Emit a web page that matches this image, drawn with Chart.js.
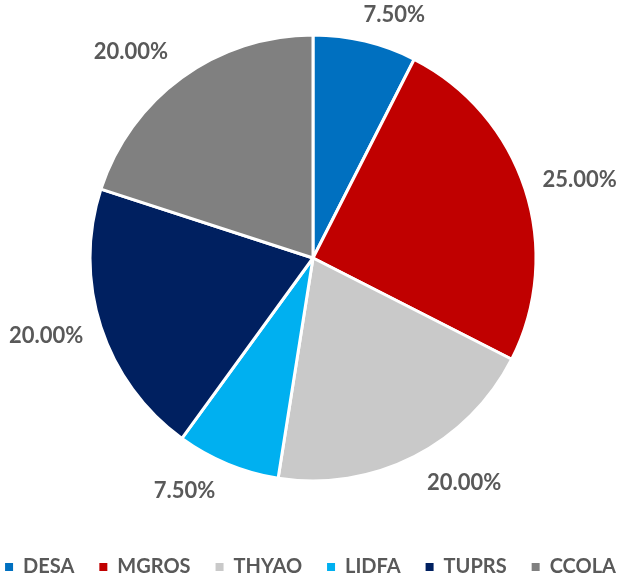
<!DOCTYPE html>
<html>
<head>
<meta charset="utf-8">
<script src="https://cdn.jsdelivr.net/npm/chart.js@4/dist/chart.umd.min.js"></script>
<style>
    html, body { margin: 0; padding: 0; background: #ffffff; }
    #wrap { width: 626px; height: 581px; position: relative; }
</style>
</head>
<body>
<div id="wrap"><canvas id="pie-chart"></canvas></div>
<script>
const categories = ["DESA", "MGROS", "THYAO", "LIDFA", "TUPRS", "CCOLA"];
const weights = [7.5, 25, 20, 7.5, 20, 20];
const sliceColours = ["#0070C0", "#C00000", "#C9C9C9", "#00B0F0", "#002060", "#808080"];

// where each value label sits: degrees turned from the slice middle, px beyond the rim
const labelTurn = [5, 1.6, -6.9, 6.4, 1.7, -5.5];
const labelGap = [33, 55, 48, 43, 55, 52];

const textColour = "#595959";
const fontFamily = "Lato, 'Open Sans', sans-serif";

/* value labels */
const valueLabels = {
    id : "valueLabels",
    afterDatasetsDraw : function(chart) {
        const ctx = chart.ctx;
        const meta = chart.getDatasetMeta(0);
        ctx.save();
        ctx.font = "bold 22px " + fontFamily;
        ctx.fillStyle = textColour;
        ctx.textAlign = "center";
        ctx.textBaseline = "middle";
        meta.data.forEach((arc, i) => {
            const p = arc.getProps(["x", "y", "startAngle", "endAngle", "outerRadius"], true);
            const mid = (p.startAngle + p.endAngle) / 2 + labelTurn[i] * Math.PI / 180;
            const dist = p.outerRadius + labelGap[i];
            const tx = p.x + Math.cos(mid) * dist;
            const ty = p.y + Math.sin(mid) * dist;
            ctx.fillText(weights[i].toFixed(2) + "%", tx, ty);
        });
        ctx.restore();
    }
};
/* end */

const ctx = document.getElementById("pie-chart");

new Chart(ctx.getContext("2d"), {
    type : "pie",
    data : {
        labels : categories,
        datasets : [{
            data : weights,
            backgroundColor : sliceColours,
            borderColor : "#ffffff",
            borderWidth : 3
        }]
    },
    options : {
        responsive : true,
        maintainAspectRatio : false,
        animation : false,
        radius : 223,
        layout : {
            padding : { top : 0, bottom : 0, left : -32.5, right : -27.5 }
        },
        plugins : {
            tooltip : { enabled : false },
            legend : {
                position : "bottom",
                maxHeight : 65,
                title : {
                    display : true,
                    text : " ",
                    font : { size : 1, lineHeight : 1 },
                    padding : { top : 15, bottom : 0 }
                },
                labels : {
                    boxWidth : 8,
                    boxHeight : 8,
                    padding : 25,
                    color : textColour,
                    font : { family : fontFamily, size : 20, weight : "bold" },
                    generateLabels : function(chart) {
                        return Chart.overrides.pie.plugins.legend.labels.generateLabels(chart).map((item) => {
                            item.lineWidth = 0;
                            item.strokeStyle = item.fillStyle;
                            return item;
                        });
                    }
                }
            }
        }
    },
    plugins : [valueLabels]
});
</script>
</body>
</html>
